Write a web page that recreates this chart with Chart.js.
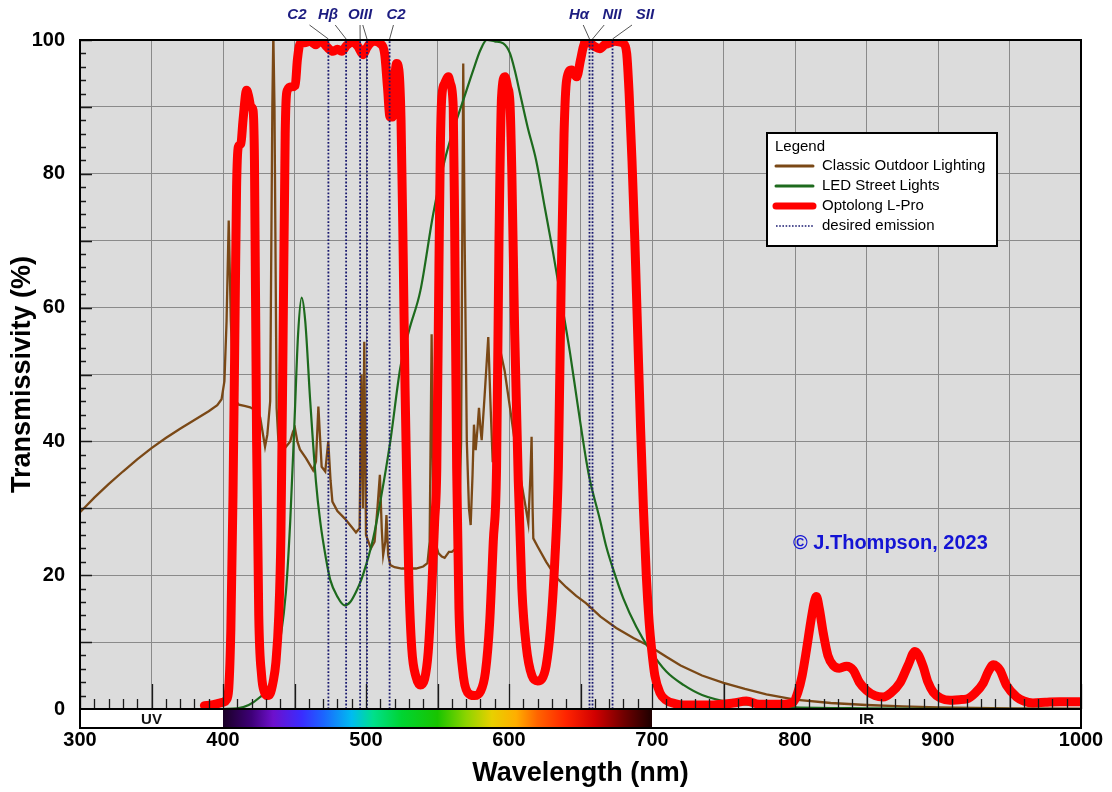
<!DOCTYPE html>
<html>
<head>
<meta charset="utf-8">
<title>Optolong L-Pro transmission</title>
<script src="https://cdn.jsdelivr.net/npm/chart.js@4.4.0/dist/chart.umd.min.js"></script>
<style>
  body { margin: 0; background: #fff; }
  canvas { display: block; }
</style>
</head>
<body>
<canvas id="chart" width="1112" height="792"></canvas>
<script>
// Classic Outdoor Lighting (sodium / mercury)
var brownNm = [300, 310, 320, 330, 340, 350, 360, 370, 380, 390, 396, 399, 401, 402.5, 404, 405.5, 407, 409, 411, 415, 419, 423, 426, 428, 429.4, 431, 433, 434.5, 435.2, 436, 437.5, 438.7, 441, 444, 447, 449, 450.3, 452, 453.8, 458, 463, 465, 466.7, 468, 469, 471.5, 473.6, 475.2, 476.5, 480, 485, 490, 493, 495.5, 496.8, 497.8, 498.8, 500, 503.4, 506, 508, 509.7, 511, 512, 513.5, 514.3, 515.5, 517, 520, 525, 530, 535, 540, 543, 544.5, 545.9, 547, 548.5, 550.6, 553, 555, 558, 560, 563, 565, 566.5, 568, 569, 570.5, 572, 573.2, 574.5, 575.5, 576.7, 578, 579, 580, 580.9, 583, 585.5, 587, 588.6, 591, 594, 597, 600.7, 604, 607.7, 611, 613.5, 615, 615.8, 616.5, 617, 620, 626, 633, 640, 647, 654, 664, 675, 687, 699, 710, 720, 735, 750, 765, 780, 800, 825, 850, 875, 900, 950, 1000]
var brownVal = [29.4, 31.6, 33.6, 35.5, 37.3, 39.0, 40.5, 41.9, 43.2, 44.5, 45.4, 46.3, 49, 58, 73, 58, 49, 46, 45.5, 45.3, 45.1, 44.6, 43.6, 41, 39.2, 41, 46, 90, 101, 90, 45, 40.2, 40.5, 39.2, 40, 41.5, 42, 40, 38.8, 37.5, 35.7, 37, 45.2, 40, 36.2, 35.5, 40, 34.2, 31, 29.6, 28.5, 27.2, 26.4, 27, 50, 30, 54.9, 26, 24, 25, 30, 35, 27, 23, 25, 29, 23, 21.5, 21.2, 21, 21, 21, 21.3, 21.8, 25, 56, 30, 25, 23.3, 22.8, 22.6, 23.5, 23.5, 24, 27, 40, 96.5, 70, 40, 30, 27.5, 35, 42.5, 38.7, 42, 45, 42, 40.2, 47, 55.6, 46, 36.9, 45, 53.5, 50.5, 45, 40, 35, 31, 27.8, 35, 40.7, 30, 25.5, 24.3, 22, 19.7, 18.2, 16.9, 15.8, 13.8, 12.1, 10.6, 9.3, 7.8, 6.5, 5.0, 3.9, 3.0, 2.2, 1.4, 0.9, 0.6, 0.4, 0.25, 0.1, 0.05]

// LED Street Lights
var greenNm = [400, 410, 418, 426, 430.5, 435, 440, 444, 447, 450, 452.5, 455, 457.5, 461, 465, 468, 472, 475, 480, 485, 489, 493, 497, 500, 505, 510, 517, 524, 530, 538, 547, 555, 561, 568, 575, 580, 584.5, 590, 596, 600.7, 604, 607.7, 613, 619, 625, 631, 637, 642.7, 648, 654.3, 656.6, 663.6, 668, 673, 680, 689, 698.6, 710, 722, 735, 757, 780, 800, 850, 900, 1000]
var greenVal = [0, 0.1, 0.6, 1.8, 2.8, 5, 10.3, 17.5, 28, 43, 56, 61.5, 58, 46, 34, 28, 22.5, 19.3, 16.8, 15.5, 16, 17.5, 19.5, 21.5, 25.5, 31, 40, 51, 56.5, 62.5, 74, 82, 86.5, 91, 95.5, 98.5, 100, 99.8, 99.5, 98, 95.5, 92, 87, 82, 75, 68, 60.5, 53.2, 45.5, 36.8, 34.2, 28.3, 24.3, 20.8, 16.5, 12.3, 8.8, 5.6, 3.6, 2.1, 0.9, 0.45, 0.25, 0.1, 0.02, 0]

// Optolong L-Pro
var redNm = [387, 392, 396, 400, 402.5, 404, 405.5, 407, 408.5, 409.5, 410.7, 412.5, 414, 416.5, 418, 419.5, 421, 422, 423.5, 425, 427, 429, 431, 433, 435, 437, 439, 440.5, 442, 443.5, 445, 448, 450.5, 452, 454, 457, 461, 465, 468, 472.5, 477, 480, 483, 486.5, 491, 494.5, 498, 500.5, 502.8, 506, 509.8, 513, 515, 516.8, 518.5, 520, 521.4, 523, 524.5, 526, 527.3, 528.5, 530, 532, 535, 538, 541, 543.5, 546, 548, 549.5, 551, 552, 553, 555, 557.6, 559, 561, 562, 563.4, 565, 567.5, 571, 576, 580, 583.5, 586.5, 589, 591.3, 593, 594.8, 597.2, 599, 600.7, 602, 604, 606.5, 609, 612, 616, 620, 623, 626, 629, 632, 634.5, 636.5, 638.5, 640.3, 643.8, 647.3, 650, 652, 654.3, 657, 660, 663.6, 667, 670, 674, 677.6, 680, 682.3, 684, 686, 688, 690, 692, 694, 696, 698, 699.8, 702, 705.6, 710, 716, 722, 740, 757, 766, 775, 790, 798.6, 802, 805, 808, 811, 813.5, 815, 817, 819.8, 823, 826.8, 831, 836, 840.8, 845, 850, 856, 861.7, 867, 873.4, 879, 883.9, 886.5, 889.7, 893, 896.7, 902, 908.4, 915, 920, 926, 931.7, 935, 938.7, 941, 943.4, 948, 955, 960, 966.4, 975, 985, 1000]
var redVal = [0.5, 0.6, 0.8, 1.0, 1.4, 3, 12, 32, 60, 78, 84, 84.5, 88, 92.5, 91.5, 90, 89.5, 82, 40, 14, 5, 2.5, 2, 2.3, 4, 7, 14, 26, 55, 86, 92.5, 93, 93.2, 97, 99.5, 99.6, 99.8, 99.3, 100, 99, 98.3, 98.6, 98.3, 99.2, 99.7, 99, 97.8, 98.8, 99.5, 99.8, 99.5, 98, 93, 88.5, 88.5, 94, 96.5, 95.5, 88, 68, 48, 34, 19, 9, 4.8, 3.6, 4.5, 8.5, 18, 28, 36, 66, 84, 91.5, 93.5, 94.5, 93.5, 90, 72, 36, 15, 6, 2.5, 2, 2.6, 5.5, 13, 25, 36, 70, 91.5, 94.5, 93, 90.5, 80, 56, 34, 18, 9.5, 5, 4.2, 4.5, 6.5, 12, 22, 36, 64, 86, 94, 95.5, 94.5, 97, 99, 100, 99.5, 99, 98.7, 99.3, 99.5, 99.8, 99.7, 99.5, 98, 92, 82, 70, 56, 42, 30, 20, 13, 8.8, 5, 2.4, 1.3, 0.8, 0.6, 0.6, 0.9, 1.2, 0.7, 0.7, 1.0, 2.5, 5, 8.8, 13, 16, 16.8, 15, 11.3, 8, 6.5, 6.1, 6.4, 5.8, 4, 2.8, 2, 1.8, 2.4, 3.9, 6.5, 8.6, 8, 6.3, 4, 2.5, 1.6, 1.3, 1.4, 1.5, 2.4, 3.9, 5.5, 6.6, 6.4, 5.8, 3.5, 1.8, 1.2, 0.9, 1, 1.1, 1.1]

// desired emission lines and their names along the top
var emissionNm = [473.7, 486.1, 495.9, 500.7, 516.5, 656.3, 658.4, 672.4]
var emissionNames = ["C2", "H\u03b2", "OIII", "C2", "H\u03b1", "NII", "SII"]
var emissionNameNm = [451.7, 473.4, 495.8, 521, 649, 672, 695.1]
var emissionNameLines = [[0], [1], [2, 3], [4], [5], [6], [7]]

var xTickLabels = [300, 400, 500, 600, 700, 800, 900, 1000]
var yTickLabels = [0, 20, 40, 60, 80, 100]
var legendNames = ["Classic Outdoor Lighting", "LED Street Lights", "Optolong L-Pro", "desired emission"]

var FONT = "'Liberation Sans', Arial, sans-serif"
var BROWN = "#7a4816"
var GREEN = "#1d6a1d"
var RED = "#ff0000"
var NAVY = "#1a1a70"

function toPoints(nm, val) {
    var pts = []
    for (var i = 0; i < nm.length; i++) {
        pts.push({ x: nm[i], y: val[i] })
    }
    return pts
}

var emissionPoints = []
emissionNm.forEach(function (nm) {
    emissionPoints.push({ x: nm, y: 0 }, { x: nm, y: 100 }, { x: nm, y: null })
})

var spectrumStops = [
    [400, "#1a0026"], [420, "#3e0078"], [435, "#6e10cc"], [455, "#3a2cff"],
    [470, "#1c64ff"], [490, "#00bcf0"], [505, "#00e08c"], [525, "#00d432"],
    [550, "#18c400"], [570, "#8cd400"], [588, "#e8d000"], [605, "#ffae00"],
    [620, "#ff6400"], [640, "#ff2400"], [660, "#d20000"], [680, "#720000"], [700, "#1e0000"]
]

var decorPlugin = {
    id: "decor",
    beforeDraw: function (chart) {
        var ctx = chart.ctx
        var a = chart.chartArea
        ctx.save()
        ctx.fillStyle = "#ffffff"
        ctx.fillRect(0, 0, chart.width, chart.height)
        ctx.fillStyle = "#dcdcdc"
        ctx.fillRect(a.left, a.top, a.right - a.left, a.bottom - a.top)
        ctx.restore()
    },
    afterDraw: function (chart) {
        var ctx = chart.ctx
        var a = chart.chartArea
        var xs = chart.scales.x
        var ys = chart.scales.y
        ctx.save()

        // inner tick marks
        ctx.strokeStyle = "#1a1a1a"
        ctx.lineWidth = 1.3
        ctx.beginPath()
        for (var nm = 300; nm <= 1000; nm += 10) {
            var px = Math.round(xs.getPixelForValue(nm)) + 0.5
            var len = nm % 50 === 0 ? 25 : 10
            ctx.moveTo(px, a.bottom)
            ctx.lineTo(px, a.bottom - len)
        }
        for (var v = 0; v <= 100; v += 2) {
            var py = Math.round(ys.getPixelForValue(v)) + 0.5
            var l2 = v % 10 === 0 ? 12 : 6
            ctx.moveTo(a.left, py)
            ctx.lineTo(a.left + l2, py)
        }
        ctx.stroke()

        // plot frame
        ctx.strokeStyle = "#000"
        ctx.lineWidth = 2
        ctx.strokeRect(a.left, a.top, a.right - a.left, a.bottom - a.top)

        // spectrum bar under the axis
        var barTop = a.bottom
        var barH = 19
        var x400 = xs.getPixelForValue(400)
        var x700 = xs.getPixelForValue(700)
        ctx.fillStyle = "#fff"
        ctx.fillRect(a.left, barTop, a.right - a.left, barH)
        var grad = ctx.createLinearGradient(x400, 0, x700, 0)
        spectrumStops.forEach(function (s) {
            grad.addColorStop((s[0] - 400) / 300, s[1])
        })
        ctx.fillStyle = grad
        ctx.fillRect(x400, barTop, x700 - x400, barH)
        ctx.strokeStyle = "#000"
        ctx.lineWidth = 2
        ctx.strokeRect(a.left, barTop, a.right - a.left, barH)
        ctx.fillStyle = "#111"
        ctx.font = "bold 15px " + FONT
        ctx.textAlign = "center"
        ctx.textBaseline = "middle"
        ctx.fillText("UV", xs.getPixelForValue(350), barTop + barH / 2 + 1)
        ctx.fillText("IR", xs.getPixelForValue(850), barTop + barH / 2 + 1)

        // emission names with leader lines
        ctx.font = "italic bold 15px " + FONT
        for (var i = 0; i < emissionNames.length; i++) {
            var lx = xs.getPixelForValue(emissionNameNm[i])
            ctx.fillStyle = "#1c1c80"
            ctx.fillText(emissionNames[i], lx, 15)
            ctx.strokeStyle = "#555"
            ctx.lineWidth = 1
            emissionNameLines[i].forEach(function (k) {
                var ex = xs.getPixelForValue(emissionNm[k])
                ctx.beginPath()
                ctx.moveTo(lx + (ex - lx) * 0.4, 25)
                ctx.lineTo(ex, a.top - 1)
                ctx.stroke()
            })
        }

        // legend box
        var bx = 767, by = 133, bw = 230, bh = 113
        ctx.fillStyle = "#fff"
        ctx.fillRect(bx, by, bw, bh)
        ctx.strokeStyle = "#000"
        ctx.lineWidth = 2
        ctx.strokeRect(bx, by, bw, bh)
        ctx.fillStyle = "#000"
        ctx.textAlign = "left"
        ctx.font = "15px " + FONT
        ctx.fillText("Legend", bx + 8, by + 14)
        var styles = [
            { c: BROWN, w: 3, d: [] },
            { c: GREEN, w: 3, d: [] },
            { c: RED, w: 7, d: [] },
            { c: NAVY, w: 1.6, d: [1.6, 1.6] }
        ]
        for (var j = 0; j < legendNames.length; j++) {
            var ly = by + 33 + j * 20
            ctx.strokeStyle = styles[j].c
            ctx.lineWidth = styles[j].w
            ctx.lineCap = j === 3 ? "butt" : "round"
            ctx.setLineDash(styles[j].d)
            ctx.beginPath()
            ctx.moveTo(bx + 9, ly)
            ctx.lineTo(bx + 46, ly)
            ctx.stroke()
            ctx.setLineDash([])
            ctx.fillStyle = "#000"
            ctx.fillText(legendNames[j], bx + 55, ly)
        }

        // copyright
        ctx.fillStyle = "#1414d4"
        ctx.font = "bold 20px " + FONT
        ctx.fillText("\u00a9 J.Thompson, 2023", xs.getPixelForValue(798.6), ys.getPixelForValue(24.8))

        ctx.restore()
    }
}

var ctx = document.getElementById("chart").getContext("2d")
var myChart = new Chart(ctx, {
    type: "line",
    data: {
        datasets: [{
            label: "desired emission",
            data: emissionPoints,
            borderColor: NAVY,
            borderWidth: 1.8,
            borderDash: [1.8, 1.8],
            pointRadius: 0,
            spanGaps: false,
            clip: 0,
            order: 0
        }, {
            label: "Optolong L-Pro",
            data: toPoints(redNm, redVal),
            borderColor: RED,
            borderWidth: 9,
            borderJoinStyle: "round",
            borderCapStyle: "round",
            cubicInterpolationMode: "monotone",
            pointRadius: 0,
            clip: 0,
            order: 1
        }, {
            label: "LED Street Lights",
            data: toPoints(greenNm, greenVal),
            borderColor: GREEN,
            borderWidth: 2.2,
            cubicInterpolationMode: "monotone",
            pointRadius: 0,
            clip: 0,
            order: 2
        }, {
            label: "Classic Outdoor Lighting",
            data: toPoints(brownNm, brownVal),
            borderColor: BROWN,
            borderWidth: 2.3,
            tension: 0,
            pointRadius: 0,
            clip: 0,
            order: 3
        }]
    },
    options: {
        responsive: false,
        animation: false,
        events: [],
        layout: { padding: { top: 40, right: 31, left: 0, bottom: 0 } },
        plugins: {
            legend: { display: false },
            tooltip: { enabled: false }
        },
        scales: {
            x: {
                type: "linear",
                min: 300,
                max: 1000,
                afterFit: function (s) {
                    s.height = 83
                    s.paddingLeft = 0
                    s.paddingRight = 0
                },
                border: { display: false },
                grid: { color: "#8a8a8a", lineWidth: 1, drawTicks: false },
                ticks: {
                    stepSize: 50,
                    autoSkip: false,
                    maxRotation: 0,
                    padding: 19,
                    color: "#000",
                    font: { family: FONT, size: 20, weight: "bold" },
                    callback: function (v) { return xTickLabels.indexOf(v) >= 0 ? String(v) : "" }
                },
                title: {
                    display: true,
                    text: "Wavelength (nm)",
                    color: "#000",
                    font: { family: FONT, size: 27, weight: "bold" },
                    padding: { top: 0, bottom: 2 }
                }
            },
            y: {
                min: 0,
                max: 100,
                afterFit: function (s) {
                    s.width = 80
                    s.paddingTop = 0
                    s.paddingBottom = 0
                },
                border: { display: false },
                grid: { color: "#8a8a8a", lineWidth: 1, drawTicks: false },
                ticks: {
                    stepSize: 10,
                    autoSkip: false,
                    padding: 15,
                    color: "#000",
                    font: { family: FONT, size: 20, weight: "bold" },
                    callback: function (v) { return yTickLabels.indexOf(v) >= 0 ? String(v) : "" }
                },
                title: {
                    display: true,
                    text: "Transmissivity (%)",
                    color: "#000",
                    font: { family: FONT, size: 27, weight: "bold" },
                    padding: { top: 6, bottom: 0 }
                }
            }
        }
    },
    plugins: [decorPlugin]
})
</script>
</body>
</html>
